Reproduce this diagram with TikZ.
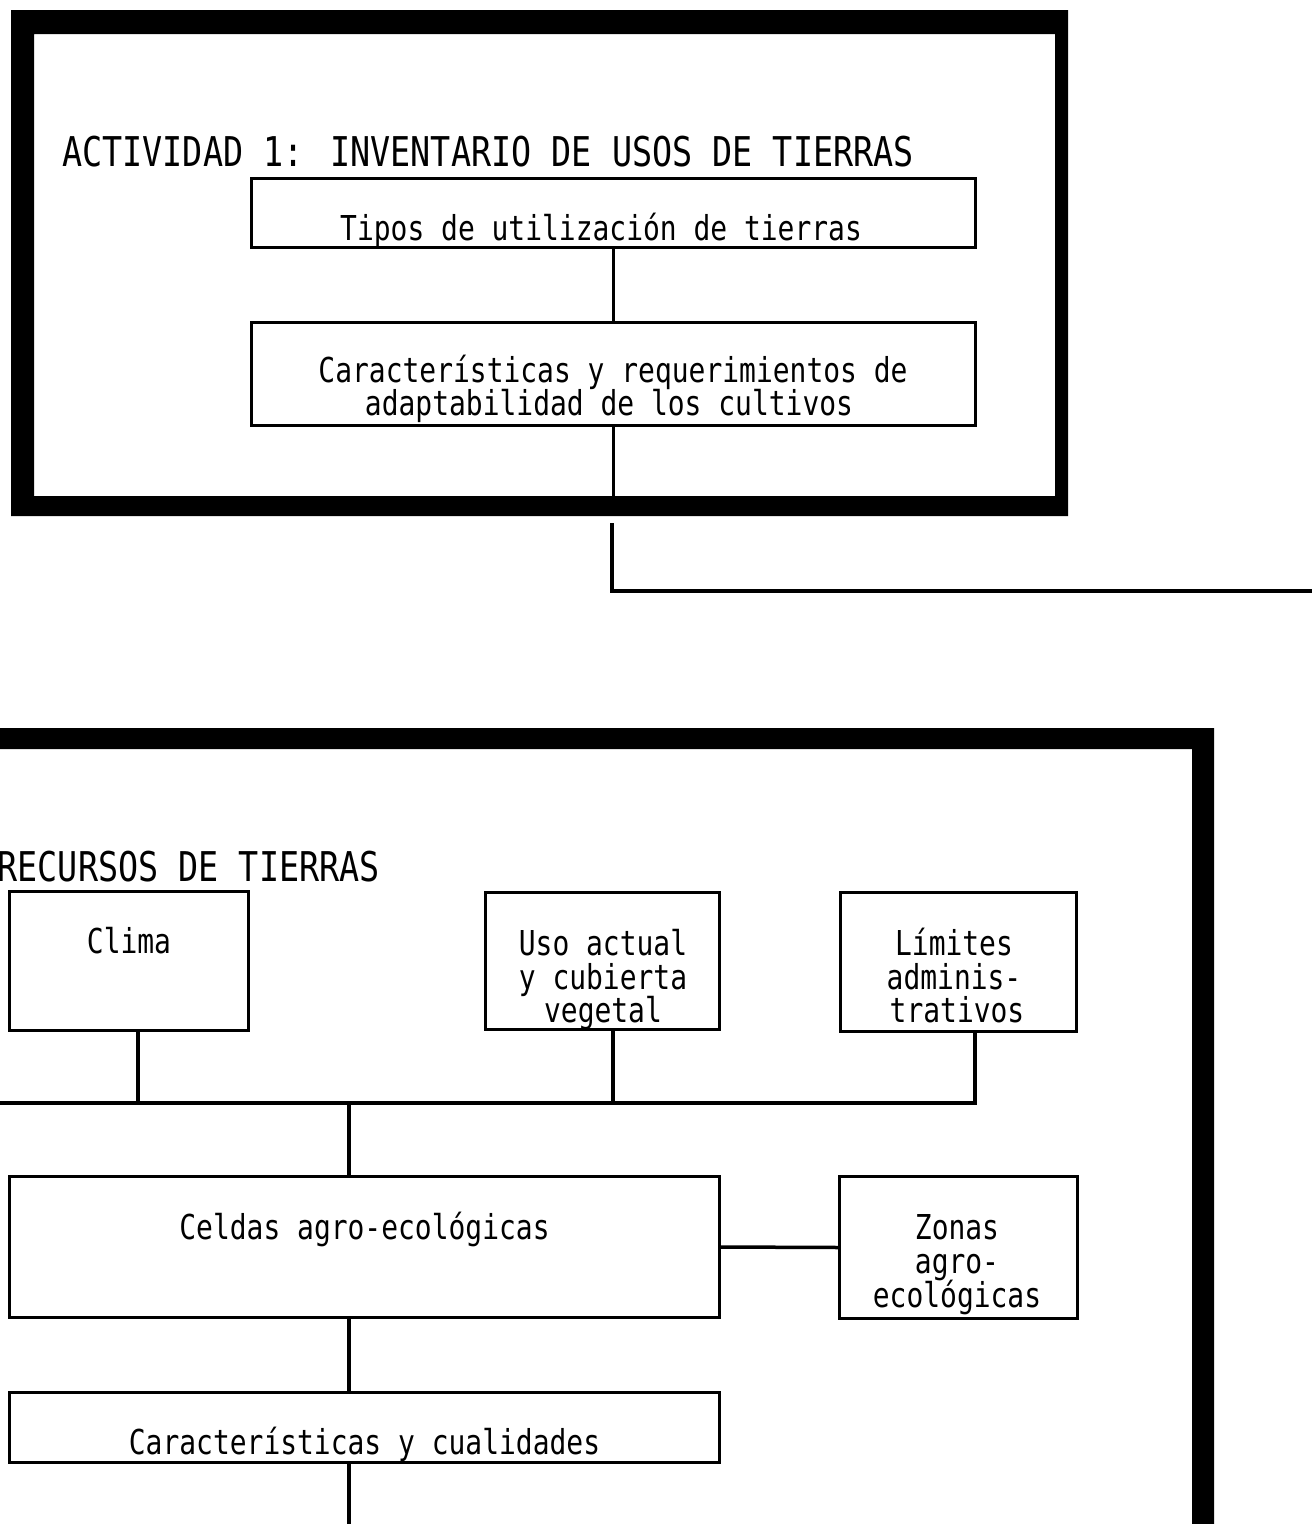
\documentclass[tikz,border=0pt]{standalone}
\usepackage{fontspec}
\newfontfamily\dmono[FakeStretch=0.815]{DejaVu Sans Mono}
\newcommand\bodyfont{\dmono\fontsize{34.3pt}{33pt}\selectfont}
\newcommand\headfont{\dmono\fontsize{41pt}{40pt}\selectfont}
\tikzset{
  boxe/.style={draw, rectangle, line width=3.5pt, inner sep=0pt, outer sep=0pt},
  wire/.style={line width=3.5pt},
  txt/.style={anchor=base, inner sep=0pt, font=\bodyfont},
  head/.style={inner sep=0pt, font=\headfont},
}
\begin{document}
\begin{tikzpicture}[x=1pt, y=-1pt]
\useasboundingbox (0,0) rectangle (1312,1524);
\clip (0,0) rectangle (1312,1524);

% ---------- Activity 1 frame ----------
\fill[even odd rule] (11,10) rectangle (1068,516) (34,34) rectangle (1055,496);
\node[head, anchor=base west] (h1) at (62,166) {ACTIVIDAD 1: INVENTARIO DE USOS DE TIERRAS};

\node[boxe, minimum width=724pt, minimum height=69pt] (tipos) at (613.5,213) {};
\node[txt, anchor=base west] (tipos-t) at (340,240) {Tipos de utilización de tierras};

\node[boxe, minimum width=724pt, minimum height=103pt] (carac) at (613.5,374) {};
\node[txt] (carac-t1) at (613,382) {Características y requerimientos de};
\node[txt] (carac-t2) at (609,415) {adaptabilidad de los cultivos};

\draw[wire] (tipos.south) -- (carac.north);
\coordinate (f1bot) at (613.5,500);
\draw[wire] (carac.south) -- (f1bot);

% link leaving the frame to the right
\coordinate (exitA) at (612,523);
\coordinate (exitB) at (612,591);
\coordinate (exitC) at (1320,591);
\draw[wire, line width=4pt] (exitA) -- (exitB) -- (exitC);

% ---------- Activity 2 frame ----------
\fill[even odd rule] (-60,728) rectangle (1214,1600) (-39,749) rectangle (1192,1580);
\node[head, anchor=base east] (h2) at (380,881) {RECURSOS DE TIERRAS};

\node[boxe, minimum width=239pt, minimum height=139pt] (clima) at (129,961) {};
\node[txt] (clima-t) at (129,953) {Clima};

\node[boxe, minimum width=234pt, minimum height=137pt] (uso) at (602.5,961) {};
\node[txt] (uso-t1) at (603,955) {Uso actual};
\node[txt] (uso-t2) at (603,989) {y cubierta};
\node[txt] (uso-t3) at (603,1022) {vegetal};

\node[boxe, minimum width=236pt, minimum height=139pt] (lim) at (958.5,962) {};
\node[txt] (lim-t1) at (954,955) {Límites};
\node[txt] (lim-t2) at (954,989) {adminis-};
\node[txt] (lim-t3) at (957,1022) {trativos};

% collecting bus
\coordinate (busL) at (-10,1103);
\coordinate (jc) at (138,1103);
\coordinate (jm) at (349,1103);
\coordinate (ju) at (613,1103);
\coordinate (jl) at (975,1103);
\draw[wire] (busL) -- (jl) -- (lim.south -| jl);
\draw[wire] (clima.south -| jc) -- (jc);
\draw[wire] (uso.south -| ju) -- (ju);

\node[boxe, minimum width=710pt, minimum height=141pt] (celdas) at (364.5,1247) {};
\node[txt] (celdas-t) at (364.5,1239) {Celdas agro-ecológicas};

\node[boxe, minimum width=238pt, minimum height=142pt] (zonas) at (958.5,1247.5) {};
\node[txt] (zonas-t1) at (957,1239) {Zonas};
\node[txt] (zonas-t2) at (957,1273) {agro-};
\node[txt] (zonas-t3) at (957,1307) {ecológicas};

\draw[wire] (jm) -- (celdas.north -| jm);
\draw[wire] (celdas.east) -- (zonas.west);

\node[boxe, minimum width=710pt, minimum height=70pt] (cual) at (364.5,1427.5) {};
\node[txt] (cual-t) at (364.5,1454) {Características y cualidades};

\draw[wire] (celdas.south -| jm) -- (cual.north -| jm);
\coordinate (down) at (349,1540);
\draw[wire, line width=4.5pt] (cual.south -| jm) -- (down);
\end{tikzpicture}
\end{document}
